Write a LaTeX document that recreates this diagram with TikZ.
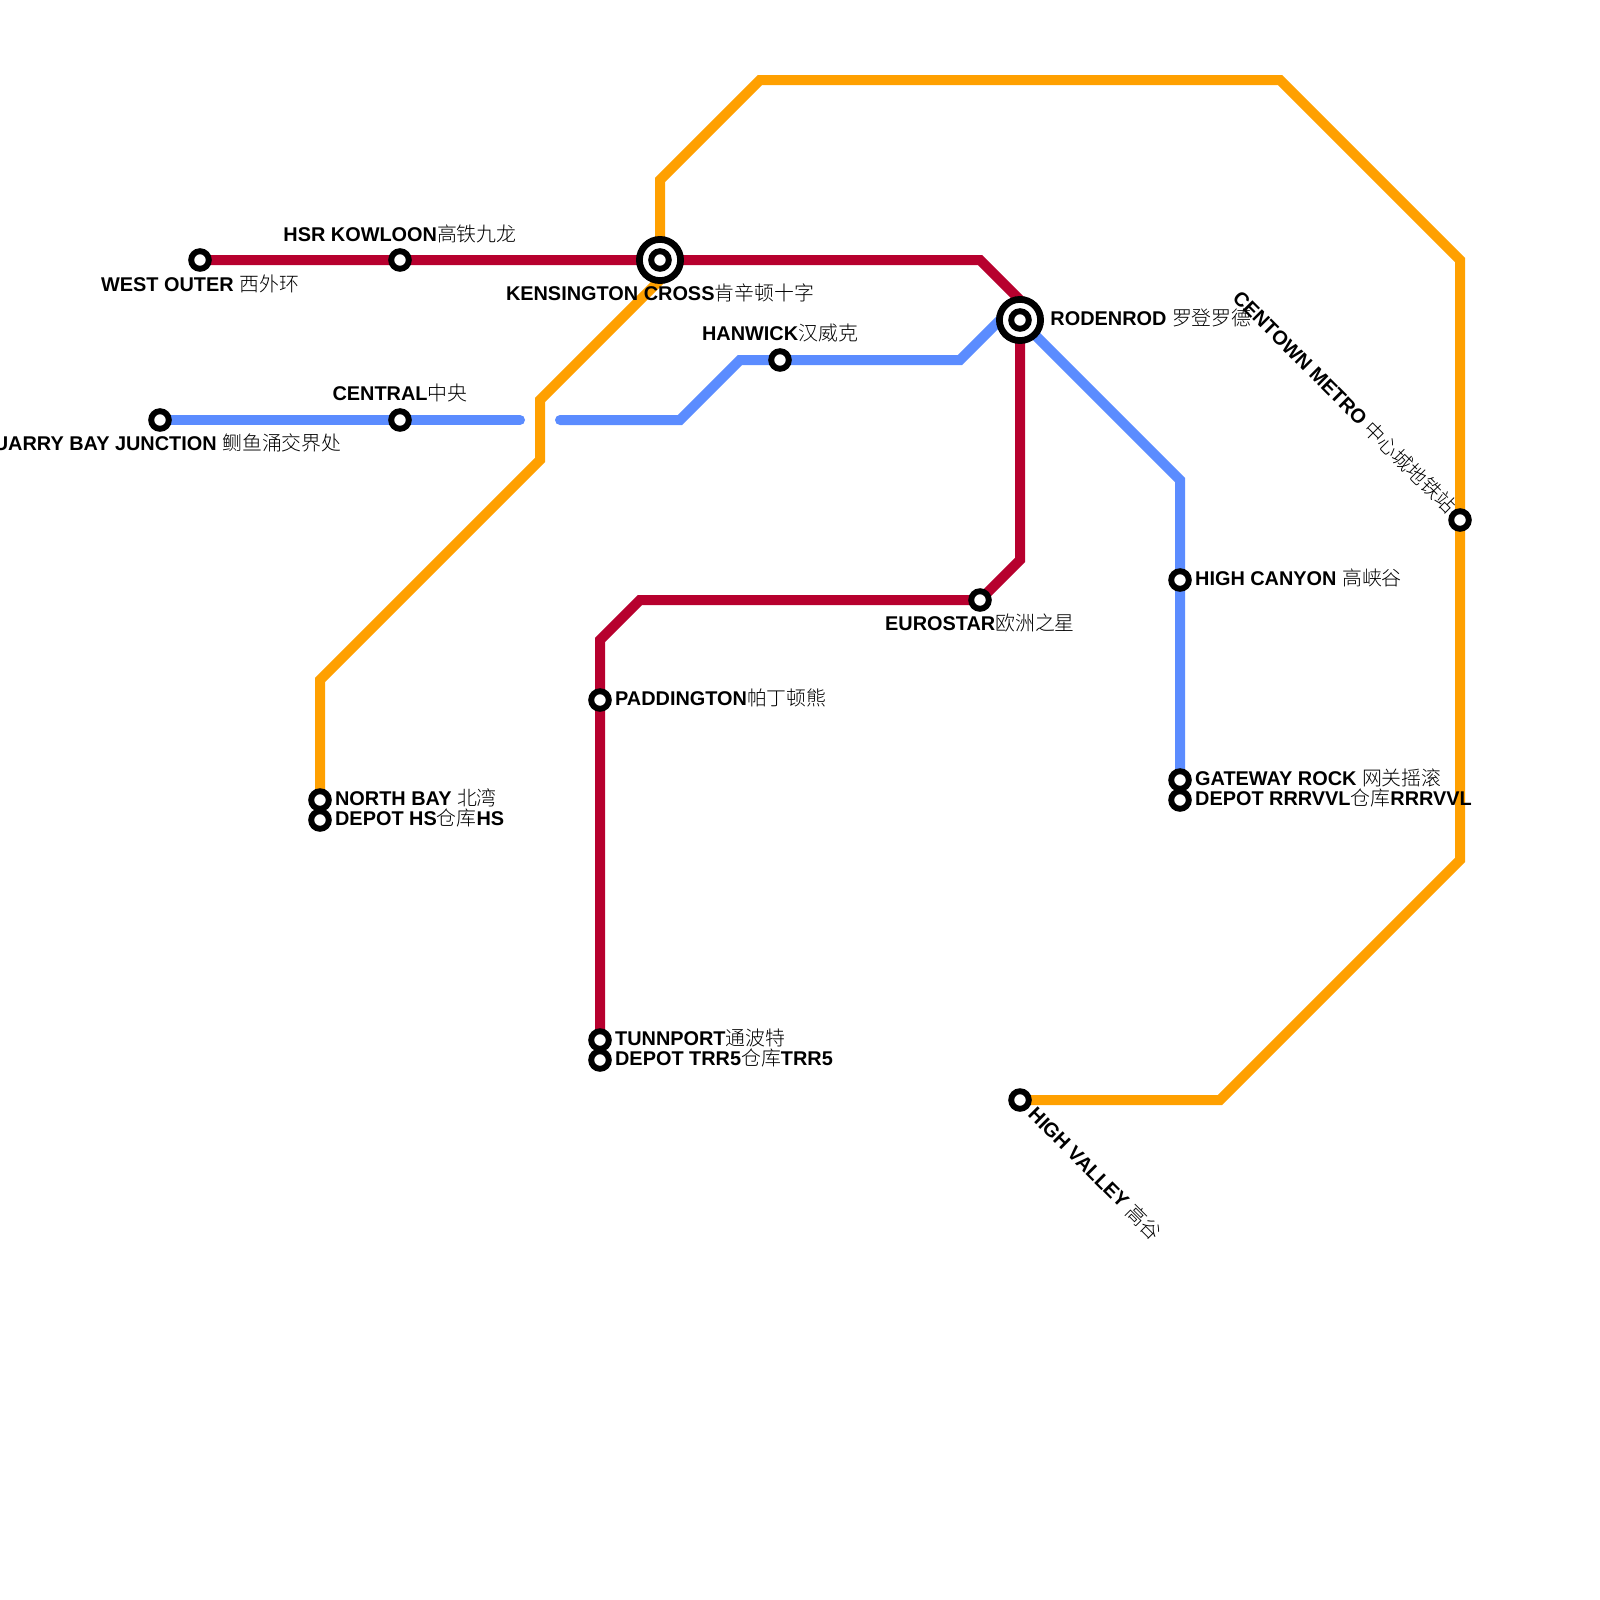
\documentclass[tikz,border=0pt]{standalone}
\usepackage{fontspec}
\setmainfont{Liberation Sans}
\newfontfamily\cjk{Noto Sans CJK SC Light}
\newcommand{\zh}[1]{{\cjk\mdseries #1}}
\usetikzlibrary{positioning, backgrounds}
\definecolor{redline}{RGB}{183,0,46}
\definecolor{blueline}{RGB}{91,140,255}
\definecolor{orangeline}{RGB}{255,160,0}

\begin{document}
\begin{tikzpicture}[
		x=0.5cm, y=-0.5cm,
		rail/.style={line width=7.11pt, line cap=round, miter limit=10},
		station/.style={circle, draw=black, fill=white, line width=4.2pt, inner sep=0pt, minimum size=0.44cm},
		hub/.style={circle, draw=black, fill=white, line width=4.8pt, inner sep=0pt, minimum size=1.03cm},
		stn/.style={font=\fontsize{14.15}{14.15}\selectfont\bfseries, inner sep=0pt},
		side/.style={stn, yshift=1.4pt}
		]
		\useasboundingbox (0,0) rectangle (80,80);
		
		% --- Stations ---
		\node[station] (west) at (10,13) {};
		\node[station] (hsr) at (20,13) {};
		\node[hub] (kensington) at (33,13) {};
		\node[station] (kensingtonc) at (33,13) {};
		\node[hub] (rodenrod) at (51,16) {};
		\node[station] (rodenrodc) at (51,16) {};
		\node[station] (eurostar) at (49,30) {};
		\node[station] (paddington) at (30,35) {};
		\node[station] (tunnport) at (30,52) {};
		\node[station] (depottrr) at (30,53) {};
		\node[station] (quarry) at (8,21) {};
		\node[station] (central) at (20,21) {};
		\node[station] (hanwick) at (39,18) {};
		\node[station] (canyon) at (59,29) {};
		\node[station] (gateway) at (59,39) {};
		\node[station] (depotrrr) at (59,40) {};
		\node[station] (northbay) at (16,40) {};
		\node[station] (depoths) at (16,41) {};
		\node[station] (centown) at (73,26) {};
		\node[station] (valley) at (51,55) {};
		
		% --- Bends ---
		\coordinate (r1) at (49,13);
		\coordinate (r2) at (51,15);
		\coordinate (r3) at (51,28);
		\coordinate (r4) at (32,30);
		\coordinate (r5) at (30,32);
		\coordinate (gapl) at (26,21);
		\coordinate (gapr) at (28,21);
		\coordinate (b1) at (34,21);
		\coordinate (b2) at (37,18);
		\coordinate (b3) at (48,18);
		\coordinate (b4) at (50,16);
		\coordinate (b5) at (59,24);
		\coordinate (o1) at (33,9);
		\coordinate (o2) at (38,4);
		\coordinate (o3) at (64,4);
		\coordinate (o4) at (73,13);
		\coordinate (o5) at (73,43);
		\coordinate (o6) at (61,55);
		\coordinate (o7) at (33,14);
		\coordinate (o8) at (27,20);
		\coordinate (o9) at (27,23);
		\coordinate (o10) at (16,34);
		
		% --- Lines ---
		\begin{scope}[on background layer]
			\draw[rail, orangeline] (kensington.center) -- (o1) -- (o2) -- (o3) -- (o4) -- (o5) -- (o6) -- (valley.center);
			\draw[rail, orangeline] (o7) -- (o8) -- (o9) -- (o10) -- (northbay.center) -- (depoths.center);
			\draw[rail, redline] (west.center) -- (r1) -- (r2) -- (r3) -- (eurostar.center) -- (r4) -- (r5) -- (depottrr.center);
			\draw[rail, blueline] (quarry.center) -- (gapl);
			\draw[rail, blueline] (gapr) -- (b1) -- (b2) -- (b3) -- (b4) -- (rodenrod.center) -- (b5) -- (depotrrr.center);
		\end{scope}
		
		% --- Names ---
		\node[stn, below=2pt of west] (westl) {WEST OUTER \zh{西外环}};
		\node[stn, above=3.6pt of hsr] (hsrl) {HSR KOWLOON\zh{高铁九龙}};
		\node[stn, below=-0.6pt of kensington] (kensingtonl) {KENSINGTON CROSS\zh{肯辛顿十字}};
		\node[side, right=4.4pt of rodenrod] (rodenrodl) {RODENROD \zh{罗登罗德}};
		\node[stn, below=1.4pt of eurostar] (eurostarl) {EUROSTAR\zh{欧洲之星}};
		\node[side, right=2.2pt of paddington] (paddingtonl) {PADDINGTON\zh{帕丁顿熊}};
		\node[side, right=2.2pt of tunnport] (tunnportl) {TUNNPORT\zh{通波特}};
		\node[side, right=2.2pt of depottrr] (depottrrl) {DEPOT TRR5\zh{仓库}TRR5};
		\node[stn, below=1.4pt of quarry] (quarryl) {QUARRY BAY JUNCTION \zh{鲗鱼涌交界处}};
		\node[stn, above=4pt of central] (centrall) {CENTRAL\zh{中央}};
		\node[stn, above=4pt of hanwick] (hanwickl) {HANWICK\zh{汉威克}};
		\node[side, right=2.2pt of canyon] (canyonl) {HIGH CANYON \zh{高峡谷}};
		\node[side, right=2.2pt of gateway] (gatewayl) {GATEWAY ROCK \zh{网关摇滚}};
		\node[side, right=2.2pt of depotrrr] (depotrrrl) {DEPOT RRRVVL\zh{仓库}RRRVVL};
		\node[side, right=2.2pt of northbay] (northbayl) {NORTH BAY \zh{北湾}};
		\node[side, right=2.2pt of depoths] (depothsl) {DEPOT HS\zh{仓库}HS};
		\node[stn, rotate=-45, anchor=east, xshift=-0.6pt, yshift=1.6pt] (centownl) at (centown.north west) {CENTOWN METRO \zh{中心城地铁站}};
		\node[stn, rotate=-45, anchor=west, xshift=3pt, yshift=1pt] (valleyl) at (valley.south east) {HIGH VALLEY \zh{高谷}};
		
	\end{tikzpicture}
\end{document}
